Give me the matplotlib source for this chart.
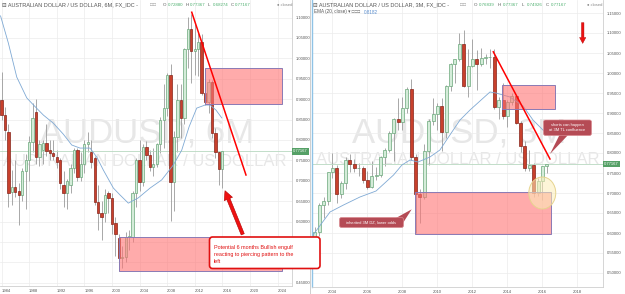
import numpy as np
import matplotlib.pyplot as plt
from matplotlib.patches import Rectangle, Ellipse, FancyBboxPatch, Polygon
from matplotlib.lines import Line2D
from matplotlib.transforms import IdentityTransform

plt.rcParams['font.family'] = ['Liberation Sans', 'DejaVu Sans']

# ---- AUDUSD 6M candles, 1984H1 .. 2016H1
h6_first = 1984.0
h6_open = [.898, .861, .820, .672, .685, .675, .665, .723, .750, .796,
           .869, .759, .775, .792, .775, .768, .759, .750, .690, .670,
           .690, .730, .775, .710, .740, .790, .770, .755, .648, .620,
           .620, .670, .657, .596, .559, .510, .512, .562, .562, .670,
           .752, .697, .782, .762, .733, .742, .789, .849, .878, .960,
           .697, .806, .897, .853, 1.023, 1.072, 1.018, 1.023, 1.039, .914,
           .892, .943, .8165, .771, .7288]
h6_high = [.966, .880, .840, .726, .750, .695, .730, .765, .810, .890,
           .900, .800, .800, .840, .800, .800, .775, .755, .725, .705,
           .740, .780, .780, .770, .800, .820, .800, .760, .690, .650,
           .680, .675, .670, .610, .570, .540, .575, .580, .675, .755,
           .800, .790, .797, .776, .780, .792, .855, .937, .965, .985,
           .822, .937, .938, 1.025, 1.101, 1.108, 1.085, 1.062, 1.060, .976,
           .950, .946, .829, .774, .7737]
h6_low = [.850, .800, .635, .640, .660, .591, .650, .630, .700, .770,
          .740, .735, .740, .760, .750, .750, .730, .680, .635, .630,
          .670, .720, .700, .700, .720, .770, .730, .640, .580, .555,
          .600, .620, .570, .515, .478, .485, .500, .530, .550, .635,
          .676, .688, .752, .725, .711, .733, .768, .780, .858, .601,
          .625, .770, .804, .838, .976, .939, .958, .957, .910, .885,
          .866, .8035, .756, .690, .6827]
h6_close = [.861, .825, .670, .685, .672, .665, .723, .750, .796, .853,
            .759, .790, .792, .772, .768, .760, .747, .694, .670, .700,
            .730, .775, .710, .740, .790, .795, .745, .648, .620, .610,
            .665, .657, .595, .570, .510, .512, .562, .565, .670, .752,
            .697, .782, .762, .733, .742, .789, .849, .878, .960, .697,
            .806, .897, .853, 1.023, 1.072, 1.018, 1.023, 1.039, .914, .892,
            .943, .8165, .771, .729, .7717]

# EMA(20)
ema6_year = [1983.86, 1984.99, 1986.21, 1987.66, 1988.61, 1990.06, 1991.51, 1992.96,
             1994.18, 1995.38, 1996.83, 1997.80, 1998.76, 2000.21, 2001.18, 2002.38,
             2003.83, 2005.53, 2007.22, 2008.90, 2010.12, 2011.18, 2012.29, 2013.50,
             2014.22, 2015.09, 2015.92]
ema6_val = [1.104, 1.0375, 0.954, 0.903, 0.886, 0.861, 0.841, 0.814,
            0.7875, 0.780, 0.780, 0.758, 0.726, 0.682, 0.665, 0.645,
            0.658, 0.682, 0.702, 0.7385, 0.775, 0.832, 0.878, 0.8855,
            0.8855, 0.873, 0.854]

# ---- AUDUSD 3M candles, 2003Q1 .. 2016Q2
q3_first = 2003.0
q3_open = [.562, .603, .670, .679, .752, .762, .697, .724, .782, .772, .762, .762,
           .733, .716, .742, .746, .789, .807, .849, .886, .878, .912, .960, .789,
           .697, .690, .806, .880, .897, .918, .853, .967, 1.023, 1.034, 1.072, .967,
           1.018, 1.035, 1.023, 1.037, 1.039, 1.041, .914, .932, .892, .928, .943, .874,
           .8165, .762, .771, .701, .729, .768]
q3_high = [.615, .675, .690, .753, .800, .770, .730, .790, .797, .786, .776, .768,
           .755, .780, .765, .792, .812, .855, .887, .937, .940, .965, .985, .797,
           .709, .822, .885, .937, .926, .938, .969, 1.025, 1.034, 1.101, 1.108, 1.060,
           1.085, 1.057, 1.062, 1.047, 1.060, 1.060, .941, .976, .932, .950, .946, .880,
           .829, .807, .774, .738, .768, .7737]
q3_low = [.555, .592, .637, .670, .737, .676, .688, .710, .752, .752, .743, .725,
          .711, .712, .733, .741, .768, .803, .780, .857, .858, .900, .782, .601,
          .625, .686, .770, .869, .858, .804, .838, .955, .976, 1.030, .965, .939,
          1.015, .958, 1.017, 1.022, 1.012, .910, .885, .885, .866, .920, .873, .8035,
          .756, .755, .690, .6935, .6827, .7493]
q3_close = [.603, .670, .679, .752, .762, .697, .724, .782, .772, .762, .762, .733,
            .716, .742, .746, .789, .807, .849, .886, .878, .912, .960, .789, .697,
            .690, .806, .880, .897, .918, .853, .967, 1.023, 1.034, 1.072, .967, 1.018,
            1.035, 1.023, 1.037, 1.039, 1.041, .914, .932, .892, .928, .943, .874, .8165,
            .762, .771, .701, .729, .768, .7717]

# EMA(20)
ema3_year = [2002.89, 2003.86, 2004.63, 2005.57, 2006.49, 2007.49, 2007.97, 2008.43,
             2008.89, 2009.57, 2010.14, 2010.71, 2011.29, 2011.86, 2012.43, 2013.00,
             2013.34, 2014.14, 2014.89, 2015.46, 2016.14]
ema3_val = [0.595, 0.6525, 0.67, 0.69, 0.705, 0.745, 0.77, 0.7825,
            0.7775, 0.79, 0.8075, 0.845, 0.8825, 0.9075, 0.93, 0.9525,
            0.95, 0.94, 0.9175, 0.8825, 0.8525]

last_price = 0.77167

W, H = 625, 294
fig = plt.figure(figsize=(6.25, 2.94), dpi=100)
fig.patch.set_facecolor('white')

UP_FACE, UP_EDGE = '#d4ecd9', '#6aa77a'
DN_FACE, DN_EDGE = '#c8402c', '#86241a'
WICK = '#9a9a9a'
PINK = (1.0, 0.45, 0.45, 0.6)
BOX_EDGE = '#8a7ab5'
WATER = '#e7e7e7'
CALLOUT = '#b54b55'


def fpos(x, y):
    return x / W, 1 - y / H


def draw_candles(ax, t, o, h, l, c, w):
    o, h, l, c = map(np.asarray, (o, h, l, c))
    up = c >= o
    ax.vlines(t, l, h, color=WICK, lw=0.6, zorder=2)
    ax.bar(t[up], (c - o)[up], w, bottom=o[up], color=UP_FACE,
           edgecolor=UP_EDGE, lw=0.5, zorder=3)
    ax.bar(t[~up], (o - c)[~up], w, bottom=c[~up], color=DN_FACE,
           edgecolor=DN_EDGE, lw=0.5, zorder=3)


def style_axis(ax, yticks):
    ax.yaxis.tick_right()
    ax.set_yticks(yticks)
    ax.set_yticklabels([f'{v:.5f}' for v in yticks])
    ax.tick_params(axis='both', length=0, labelsize=3.0, colors='#555555')
    ax.tick_params(axis='y', pad=3)
    ax.tick_params(axis='x', pad=2)
    ax.grid(True, color='#ececec', lw=0.5)
    ax.set_axisbelow(True)
    ax.spines['top'].set_visible(False)
    for s in ('right', 'bottom', 'left'):
        ax.spines[s].set_color('#cfcfcf')
        ax.spines[s].set_linewidth(0.6)


def price_tag(ax, p):
    ax.axhline(p, color='#b8d8c0', lw=0.6, zorder=2)
    ax.text(1.004, p, f'{p:.5f}', transform=ax.get_yaxis_transform(),
            ha='left', va='center', fontsize=3.0, color='white', clip_on=False,
            bbox=dict(boxstyle='square,pad=0.25', fc='#55a066', ec='none'))


# ---------------- left panel (6M)
axL = fig.add_axes([0, 8 / H, 292 / W, 286 / H])
t6 = h6_first + 0.5 * np.arange(len(h6_open))
axL.set_xlim(1983.78, 2026.1)
axL.set_ylim(0.4419, 1.143)
style_axis(axL, np.round(np.arange(0.45, 1.1001, 0.05), 2))
axL.spines['left'].set_visible(False)
axL.set_xticks(range(1984, 2025, 4))
axL.set_xticklabels([str(y) for y in range(1984, 2025, 4)], ha='left')

axL.text(0.502, 0.535, 'AUDUSD, 6M', transform=axL.transAxes, ha='center',
         va='center', fontsize=25, color=WATER, zorder=0.5)
axL.text(0.497, 0.437, 'AUSTRALIAN DOLLAR / US DOLLAR', transform=axL.transAxes,
         ha='center', va='center', fontsize=12, color=WATER, zorder=0.5)

draw_candles(axL, t6, h6_open, h6_high, h6_low, h6_close, 0.33)
axL.plot(ema6_year, ema6_val, color='#7fa9d4', lw=0.6, zorder=4)
price_tag(axL, last_price)

axL.add_patch(Rectangle((2013.49, 0.887), 11.12, 0.0885, fc=PINK, ec=BOX_EDGE, lw=0.7, zorder=4))
axL.add_patch(Rectangle((2001.07, 0.4787), 23.58, 0.084, fc=PINK, ec=BOX_EDGE, lw=0.7, zorder=4))
axL.plot([2011.57, 2019.43], [1.113, 0.714], color='red', lw=1.1, zorder=5)
axL.annotate('', xy=(2016.39, 0.6755), xytext=(2018.96, 0.5686),
             arrowprops=dict(arrowstyle='simple,head_length=0.8,head_width=0.8,tail_width=0.3',
                             fc='#ee1111', ec='#b00000', lw=0.4, shrinkA=0, shrinkB=0,
                             mutation_scale=8), zorder=6)

# ---------------- right panel (3M)
axR = fig.add_axes([312 / W, 7 / H, 291 / W, 287 / H])
t3 = q3_first + 0.25 * np.arange(len(q3_open))
axR.set_xlim(2002.83, 2019.46)
axR.set_ylim(0.465, 1.1825)
style_axis(axR, np.round(np.arange(0.50, 1.1501, 0.05), 2))
axR.spines['left'].set_color('#8fc3e6')
axR.spines['left'].set_linewidth(1.0)
axR.set_xticks(range(2004, 2019, 2))

axR.text(0.507, 0.537, 'AUDUSD, 3M', transform=axR.transAxes, ha='center',
         va='center', fontsize=25, color=WATER, zorder=0.5)
axR.text(0.50, 0.443, 'AUSTRALIAN DOLLAR / US DOLLAR', transform=axR.transAxes,
         ha='center', va='center', fontsize=12, color=WATER, zorder=0.5)

draw_candles(axR, t3, q3_open, q3_high, q3_low, q3_close, 0.17)
axR.plot(ema3_year, ema3_val, color='#7fa9d4', lw=0.6, zorder=4)
price_tag(axR, last_price)

axR.add_patch(Rectangle((2013.70, 0.91), 3.01, 0.06, fc=PINK, ec=BOX_EDGE, lw=0.7, zorder=4))
axR.add_patch(Rectangle((2008.71, 0.5965), 7.76, 0.1053, fc=PINK, ec=BOX_EDGE, lw=0.7, zorder=4))
axR.add_patch(Ellipse((2015.99, 0.70), 1.54, 0.08, fc=(0.99, 0.93, 0.72, 0.55),
                      ec='#e6d48e', lw=0.7, zorder=4.5))
axR.plot([2013.19, 2016.43], [1.053, 0.785], color='red', lw=1.1, zorder=5)
axR.annotate('', xy=(2018.30, 1.074), xytext=(2018.30, 1.1258),
             arrowprops=dict(arrowstyle='simple,head_length=0.7,head_width=0.75,tail_width=0.3',
                             fc='#ee1111', ec='#b00000', lw=0.3, shrinkA=0, shrinkB=0,
                             mutation_scale=6), zorder=6)

# ---------------- figure level decorations
fig.add_artist(Line2D([310 / W, 310 / W], [0, 1], color='#c8c8c8', lw=0.6))

ident = IdentityTransform()


def px_box(x0, y0, x1, y1, **kw):
    return FancyBboxPatch((x0, H - y1), x1 - x0, y1 - y0, transform=ident, **kw)


def px_poly(pts, **kw):
    return Polygon([(x, H - y) for x, y in pts], closed=True, transform=ident, **kw)


# left callout
fig.add_artist(px_box(209.5, 237, 320, 268.5,
                      boxstyle='round,pad=0,rounding_size=3',
                      fc='white', ec='#e01010', lw=1.2, zorder=10))
fig.text(*fpos(213.5, 254.5), 'Potential 6 months Bullish engulf\nreacting to piercing pattern to the\nleft',
         ha='left', va='center', fontsize=3.9, color='#e01010', linespacing=1.5, zorder=11)

# right callouts
fig.add_artist(px_poly([(560, 134), (569, 134), (550, 154)], fc=CALLOUT, ec='none', zorder=10))
fig.add_artist(px_box(543.5, 120, 591.5, 135.5, boxstyle='round,pad=0,rounding_size=2',
                      fc=CALLOUT, ec='#d98a90', lw=0.5, zorder=10))
fig.text(*fpos(567.5, 127.8), 'shorts can happen\nat 3M TL confluence', ha='center', va='center',
         fontsize=2.9, color='white', linespacing=1.3, zorder=11)

fig.add_artist(px_poly([(396, 218), (403, 223), (411.7, 209.3)], fc=CALLOUT, ec='none', zorder=10))
fig.add_artist(px_box(339.5, 217.5, 403.5, 227.5, boxstyle='round,pad=0,rounding_size=2',
                      fc=CALLOUT, ec='#d98a90', lw=0.5, zorder=10))
fig.text(*fpos(371.5, 222.5), 'inherited 3M DZ, lower odds', ha='center', va='center',
         fontsize=2.9, color='white', zorder=11)

# headers
HEAD = '#555555'
GREEN = '#4caf6e'
fig.text(*fpos(2, 5), '\u229f AUSTRALIAN DOLLAR / US DOLLAR, 6M, FX_IDC -', ha='left', va='center',
         fontsize=4, color=HEAD)
fig.text(*fpos(150, 5), '\u25a1\u25a1', ha='left', va='center', fontsize=3.5, color='#999999')
for i, (k, v) in enumerate([('O', '0.72880'), ('H', '0.77367'), ('L', '0.68274'), ('C', '0.77167')]):
    fig.text(*fpos(163 + 22.5 * i, 5), k, ha='left', va='center', fontsize=3.2, color=HEAD)
    fig.text(*fpos(167.5 + 22.5 * i, 5), v, ha='left', va='center', fontsize=3.2, color=GREEN)
fig.text(*fpos(277, 5), '\u25cf closed', ha='left', va='center', fontsize=3.0, color='#888888')

fig.text(*fpos(313, 5), '\u229f AUSTRALIAN DOLLAR / US DOLLAR, 3M, FX_IDC -', ha='left', va='center',
         fontsize=4, color=HEAD)
fig.text(*fpos(460, 5), '\u25a1\u25a1', ha='left', va='center', fontsize=3.5, color='#999999')
for i, (k, v) in enumerate([('O', '0.76839'), ('H', '0.77367'), ('L', '0.74926'), ('C', '0.77167')]):
    fig.text(*fpos(474 + 24 * i, 5), k, ha='left', va='center', fontsize=3.2, color=HEAD)
    fig.text(*fpos(478.5 + 24 * i, 5), v, ha='left', va='center', fontsize=3.2, color=GREEN)
fig.text(*fpos(587, 5), '\u25cf closed', ha='left', va='center', fontsize=3.0, color='#888888')
fig.text(*fpos(314, 12), 'EMA (20, close) \u25be \u25a1\u25a1\u25a1', ha='left', va='center',
         fontsize=3.3, color=HEAD)
fig.text(*fpos(364, 12), '0.8182', ha='left', va='center', fontsize=3.3, color='#5b8fcf')

fig.savefig('out.png', dpi=100)
